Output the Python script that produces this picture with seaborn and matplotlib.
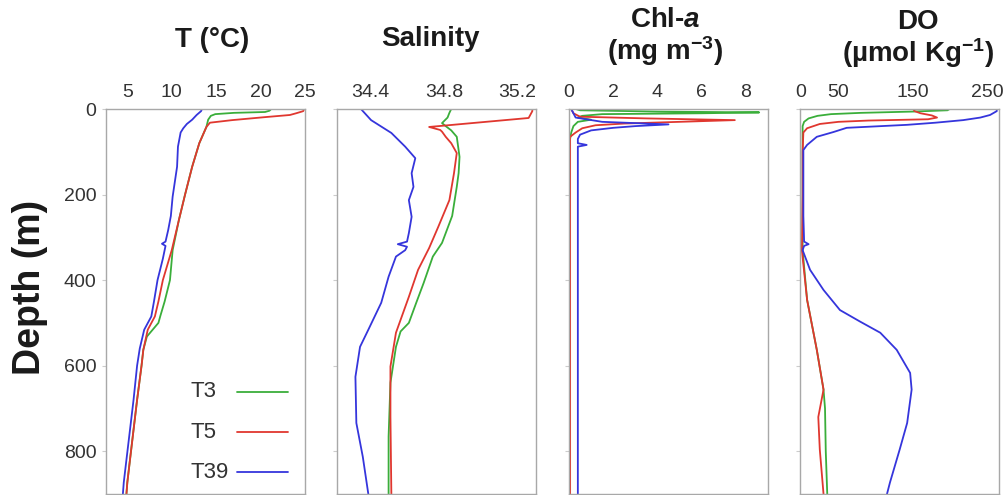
import matplotlib
matplotlib.use("Agg")
import matplotlib.pyplot as plt
import pandas as pd
import seaborn as sns

# ---------------------------------------------------------------- data
stations = ["T3", "T5", "T39"]
station_colors = {"T3": "#3aae3a", "T5": "#e0372f", "T39": "#3535dc"}

# Temperature (deg C)
temp_depth_T3 = [0, 4, 7, 9, 12, 16, 25, 42, 80, 135, 200, 260, 330, 400, 450, 485, 500, 532, 563, 600, 680, 750, 820, 873, 900]
temp_T3 = [21.2, 21.0, 20.5, 17.0, 14.9, 14.4, 14.1, 13.9, 13.1, 12.3, 11.5, 10.8, 10.1, 9.8, 9.2, 8.7, 8.5, 7.2, 6.8, 6.6, 6.1, 5.7, 5.3, 5.0, 4.9]
temp_depth_T5 = [0, 5, 10, 14, 19, 26, 32, 42, 80, 135, 200, 260, 330, 400, 450, 485, 516, 563, 600, 680, 750, 820, 873, 900]
temp_T5 = [24.9, 24.8, 24.0, 23.3, 20.5, 16.8, 14.3, 13.9, 13.1, 12.3, 11.5, 10.8, 10.0, 9.0, 8.5, 8.1, 7.3, 6.8, 6.6, 6.1, 5.7, 5.3, 5.0, 4.9]
temp_depth_T39 = [0, 5, 14, 25, 35, 45, 55, 88, 135, 205, 250, 283, 310, 315, 320, 350, 400, 450, 485, 516, 560, 600, 680, 750, 820, 873, 900]
temp_T39 = [13.4, 13.3, 12.8, 12.3, 11.7, 11.3, 11.0, 10.7, 10.6, 10.1, 9.9, 9.6, 9.3, 8.9, 9.3, 9.0, 8.4, 8.0, 7.7, 6.9, 6.4, 6.1, 5.7, 5.3, 4.9, 4.6, 4.5]

# Salinity
sal_depth_T3 = [0, 9, 20, 33, 40, 50, 65, 96, 112, 150, 182, 250, 313, 345, 407, 453, 500, 520, 556, 640, 766, 900]
sal_T3 = [34.84, 34.83, 34.82, 34.79, 34.81, 34.84, 34.87, 34.88, 34.885, 34.88, 34.87, 34.845, 34.79, 34.74, 34.69, 34.65, 34.61, 34.565, 34.54, 34.51, 34.50, 34.50]
sal_depth_T5 = [0, 5, 21, 42, 49, 53, 65, 80, 103, 150, 213, 275, 325, 376, 439, 523, 602, 719, 900]
sal_T5 = [35.28, 35.28, 35.26, 34.72, 34.78, 34.79, 34.81, 34.84, 34.87, 34.855, 34.83, 34.77, 34.72, 34.66, 34.61, 34.54, 34.51, 34.51, 34.515]
sal_depth_T39 = [0, 26, 56, 88, 115, 150, 182, 213, 252, 290, 310, 316, 322, 330, 345, 392, 453, 516, 556, 626, 734, 813, 900]
sal_T39 = [34.35, 34.405, 34.515, 34.59, 34.645, 34.625, 34.635, 34.61, 34.625, 34.61, 34.60, 34.55, 34.60, 34.59, 34.54, 34.50, 34.46, 34.39, 34.345, 34.32, 34.325, 34.36, 34.39]

# Chlorophyll-a (mg m-3)
chl_depth_T3 = [0, 3, 6, 8, 10, 12, 16, 20, 25, 30, 40, 55, 70, 900]
chl_T3 = [0.3, 0.5, 4.0, 8.6, 6.0, 1.5, 0.6, 0.4, 1.0, 0.4, 0.2, 0.1, 0.05, 0.05]
chl_depth_T5 = [0, 10, 18, 22, 26, 30, 34, 38, 45, 55, 65, 900]
chl_T5 = [0.1, 0.2, 0.5, 3.5, 7.5, 5.0, 2.5, 1.2, 0.6, 0.3, 0.05, 0.05]
chl_depth_T39 = [0, 20, 30, 36, 40, 44, 50, 60, 70, 80, 84, 88, 100, 900]
chl_T39 = [0.1, 0.3, 1.5, 4.5, 3.0, 2.0, 1.0, 0.5, 0.4, 0.4, 0.8, 0.4, 0.4, 0.4]

# Dissolved oxygen (umol kg-1)
do_depth_T3 = [0, 3, 6, 9, 12, 16, 22, 30, 40, 100, 200, 330, 446, 563, 656, 700, 800, 900]
do_T3 = [199, 196, 150, 80, 40, 22, 10, 4, 2, 2, 2, 2, 8, 21, 30, 32, 33, 35]
do_depth_T5 = [0, 5, 10, 15, 20, 24, 27, 30, 35, 45, 55, 100, 200, 330, 446, 563, 656, 720, 796, 900]
do_T5 = [150, 152, 160, 175, 182, 170, 90, 50, 25, 8, 3, 2, 2, 1, 8, 21, 30, 23, 25, 30]
do_depth_T39 = [0, 5, 14, 20, 26, 32, 37, 44, 54, 65, 84, 96, 150, 250, 310, 316, 320, 330, 376, 423, 470, 497, 523, 563, 617, 656, 734, 796, 873, 900]
do_T39 = [262, 262, 253, 240, 217, 180, 142, 61, 43, 21, 8, 3, 3, 3, 4, 10, 4, 2, 12, 30, 52, 79, 106, 128, 146, 148, 142, 132, 119, 115]

temp_ticks = [5, 10, 15, 20, 25]
sal_ticks = [34.4, 34.8, 35.2]
chl_ticks = [0, 2, 4, 6, 8]
do_ticks = [0, 50, 150, 250]
depth_ticks = [0, 200, 400, 600, 800]


def profile_frame(depths, values):
    rows = []
    for st in stations:
        for d, v in zip(depths[st], values[st]):
            rows.append({"station": st, "depth": d, "value": v})
    return pd.DataFrame(rows)


panels = [
    (profile_frame({"T3": temp_depth_T3, "T5": temp_depth_T5, "T39": temp_depth_T39},
                   {"T3": temp_T3, "T5": temp_T5, "T39": temp_T39}),
     (2.6, 25.0), temp_ticks, [str(t) for t in temp_ticks]),
    (profile_frame({"T3": sal_depth_T3, "T5": sal_depth_T5, "T39": sal_depth_T39},
                   {"T3": sal_T3, "T5": sal_T5, "T39": sal_T39}),
     (34.22, 35.3), sal_ticks, [f"{t:.1f}" for t in sal_ticks]),
    (profile_frame({"T3": chl_depth_T3, "T5": chl_depth_T5, "T39": chl_depth_T39},
                   {"T3": chl_T3, "T5": chl_T5, "T39": chl_T39}),
     (0.0, 9.0), chl_ticks, [str(t) for t in chl_ticks]),
    (profile_frame({"T3": do_depth_T3, "T5": do_depth_T5, "T39": do_depth_T39},
                   {"T3": do_T3, "T5": do_T5, "T39": do_T39}),
     (-1.5, 265.0), do_ticks, [str(t) for t in do_ticks]),
]

# ---------------------------------------------------------------- style
sns.set_theme(style="white")
plt.rcParams["font.family"] = ["Liberation Sans", "DejaVu Sans"]
plt.rcParams["mathtext.fontset"] = "custom"
plt.rcParams["mathtext.rm"] = "Liberation Sans"
plt.rcParams["mathtext.it"] = "Liberation Sans:italic:bold"
plt.rcParams["mathtext.bf"] = "Liberation Sans:bold"

W, H = 1006, 495
fig = plt.figure(figsize=(W / 100, H / 100), dpi=100)

lefts = [106, 337, 569, 800]
ax_w, ax_top, ax_bot = 199, 109, 494
axes = []
for i, (df, xlim, ticks, ticklabels) in enumerate(panels):
    ax = fig.add_axes([lefts[i] / W, (H - ax_bot) / H, ax_w / W, (ax_bot - ax_top) / H])
    sns.lineplot(data=df, x="value", y="depth", hue="station", hue_order=stations,
                 palette=station_colors, sort=False, estimator=None, legend=False,
                 linewidth=1.3, ax=ax)
    ax.set_xlim(*xlim)
    ax.set_ylim(900, 0)
    ax.xaxis.tick_top()
    ax.set_xticks(ticks)
    ax.set_xticklabels(ticklabels)
    ax.tick_params(axis="x", length=0, pad=6, labelsize=14, labelcolor="#333333")
    ax.set_yticks(depth_ticks)
    ax.tick_params(axis="y", left=True, length=3, width=0.8, color="#cccccc",
                   pad=4, labelsize=14, labelcolor="#333333")
    if i > 0:
        ax.set_yticklabels([])
    ax.set_xlabel("")
    ax.set_ylabel("")
    for sp in ax.spines.values():
        sp.set_color("#a8a8a8")
        sp.set_linewidth(1.0)
    axes.append(ax)

# legend inside the temperature panel: label on the left, line sample on the right
leg_ax = axes[0]
leg_rows = [0.265, 0.161, 0.057]
for st, yy in zip(stations, leg_rows):
    leg_ax.text(0.424, yy, st, transform=leg_ax.transAxes, ha="left", va="center",
                fontsize=16, color="#333333")
    leg_ax.plot([0.66, 0.915], [yy, yy], transform=leg_ax.transAxes,
                color=station_colors[st], linewidth=1.3)

# column headers
title_kw = dict(ha="center", multialignment="center", fontsize=20,
                fontweight="bold", color="#1a1a1a")
fig.text(212 / W, 1 - 47 / H, "T (°C)", va="baseline", **title_kw)
fig.text(430 / W, 1 - 46 / H, "Salinity", va="baseline", **title_kw)
fig.text(665 / W, 1 - 7 / H, "Chl-$\\mathit{a}$\n(mg m$^{\\mathregular{-3}}$)",
         va="top", linespacing=1.05, **title_kw)
fig.text(918 / W, 1 - 9 / H, "DO\n(µmol Kg$^{\\mathregular{-1}}$)",
         va="top", linespacing=1.05, **title_kw)

fig.text(30 / W, 1 - 287 / H, "Depth (m)", rotation=90, ha="center", va="center",
         fontsize=27, fontweight="bold", color="#1a1a1a")

fig.savefig("out.png", dpi=100)
